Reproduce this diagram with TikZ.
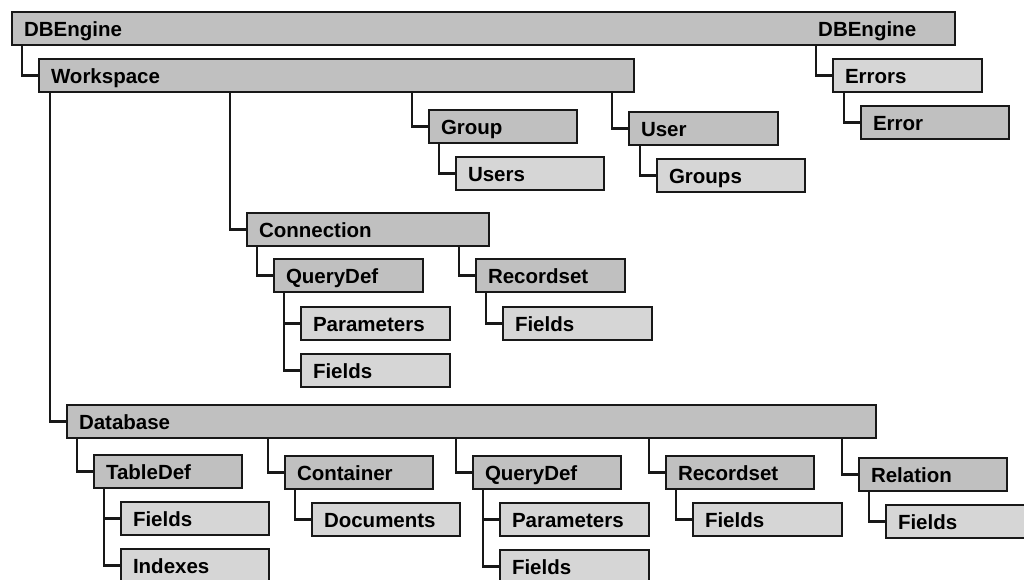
\documentclass[tikz,border=0pt]{standalone}
\usepackage{fontspec}
\setmainfont{Liberation Sans}
\definecolor{objgray}{RGB}{192,192,192}
\definecolor{colgray}{RGB}{214,214,214}
\definecolor{boxline}{RGB}{24,24,24}
\tikzset{
  box/.style={draw=boxline, line width=2pt, anchor=north west,
    inner xsep=12pt, inner ysep=0pt, minimum height=33pt,
    text height=15pt, text depth=0pt, align=left, text width=124pt,
    font=\fontsize{20.5}{24}\selectfont\bfseries},
  obj/.style={box, fill=objgray},
  coll/.style={box, fill=colgray},
  tag/.style={anchor=base west, inner sep=0pt,
    font=\fontsize{20.5}{24}\selectfont\bfseries},
  link/.style={draw=boxline, line width=2.1pt},
}
% elbow connector: down from the parent, then across to the child's left side
\newcommand{\branch}[2]{%
  \draw[link] (#2.west) -- ++(-16,0) coordinate (#2k) -- (#2k |- #1.south);}
\begin{document}
\begin{tikzpicture}[x=1pt, y=-1pt]
\useasboundingbox (0,0) rectangle (1024,579);
\clip (0,0) rectangle (1024,579);

% root
\node[obj, text width=919pt] (dbe) at (11,11) {DBEngine};
\node[tag] (dbeR) at (dbe.base -| 818,0) {DBEngine};

% errors
\node[coll, text width=125pt] (errs) at (832,58) {Errors};
\node[obj] (err) at (860,105) {Error};

% workspace
\node[obj, text width=571pt] (ws) at (38,58) {Workspace};
\node[obj] (grp) at (428,109) {Group};
\node[coll] (grpUsers) at (455,156) {Users};
\node[obj, text width=125pt] (usr) at (628,111) {User};
\node[coll] (usrGroups) at (656,158) {Groups};

% connection
\node[obj, text width=218pt] (conn) at (246,212) {Connection};
\node[obj, text width=125pt] (cQry) at (273,258) {QueryDef};
\node[coll, text width=125pt] (cQryPar) at (300,306) {Parameters};
\node[coll, text width=125pt] (cQryFld) at (300,353) {Fields};
\node[obj, text width=125pt] (cRs) at (475,258) {Recordset};
\node[coll, text width=125pt] (cRsFld) at (502,306) {Fields};

% database
\node[obj, text width=785pt] (db) at (66,404) {Database};
\node[obj] (tdef) at (93,454) {TableDef};
\node[coll] (tdefFld) at (120,501) {Fields};
\node[coll] (tdefIdx) at (120,548) {Indexes};
\node[obj] (cont) at (284,455) {Container};
\node[coll] (contDoc) at (311,502) {Documents};
\node[obj] (dQry) at (472,455) {QueryDef};
\node[coll, text width=125pt] (dQryPar) at (499,502) {Parameters};
\node[coll, text width=125pt] (dQryFld) at (499,549) {Fields};
\node[obj] (dRs) at (665,455) {Recordset};
\node[coll, text width=125pt] (dRsFld) at (692,502) {Fields};
\node[obj] (rel) at (858,457) {Relation};
\node[coll] (relFld) at (885,504) {Fields};

% connectors
\branch{dbe}{ws}
\branch{dbe}{errs}
\branch{errs}{err}
\branch{ws}{grp}
\branch{grp}{grpUsers}
\branch{ws}{usr}
\branch{usr}{usrGroups}
\branch{ws}{conn}
\branch{conn}{cQry}
\branch{cQry}{cQryPar}
\branch{cQry}{cQryFld}
\branch{conn}{cRs}
\branch{cRs}{cRsFld}
\branch{ws}{db}
\branch{db}{tdef}
\branch{tdef}{tdefFld}
\branch{tdef}{tdefIdx}
\branch{db}{cont}
\branch{cont}{contDoc}
\branch{db}{dQry}
\branch{dQry}{dQryPar}
\branch{dQry}{dQryFld}
\branch{db}{dRs}
\branch{dRs}{dRsFld}
\branch{db}{rel}
\branch{rel}{relFld}
\end{tikzpicture}
\end{document}
